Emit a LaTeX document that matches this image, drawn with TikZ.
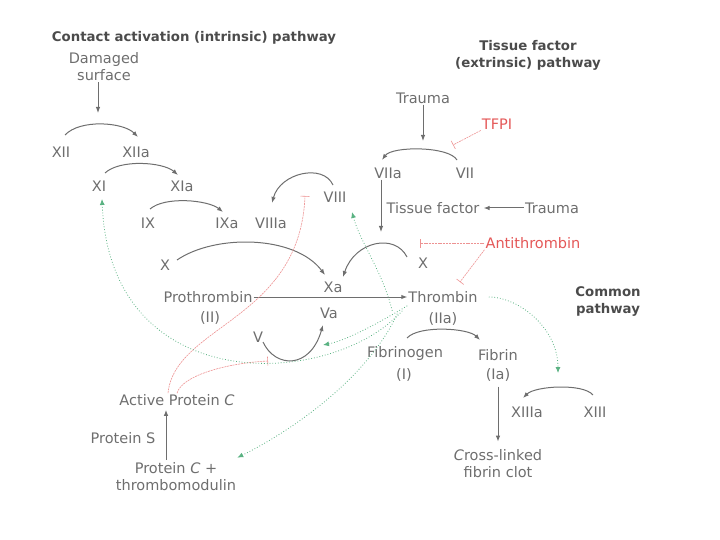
\documentclass[tikz,border=0pt]{standalone}
\usepackage{fontspec}
\setmainfont{DejaVu Sans}
\usetikzlibrary{arrows.meta,calc}
\definecolor{cgray}{RGB}{110,110,110}
\definecolor{cdark}{RGB}{75,75,75}
\definecolor{cred}{RGB}{228,88,88}
\definecolor{cgreen}{RGB}{90,178,130}
\tikzset{fac/.style={inner sep=1pt, align=center, text=cgray, font=\fontsize{14.5}{17}\selectfont}}
\tikzset{ttl/.style={inner sep=1pt, align=center, text=cdark, font=\fontsize{13.3}{17}\selectfont\bfseries}}
\tikzset{arr/.style={-{Latex[length=6pt,width=4.5pt]}, line width=1pt, cgray}}
\tikzset{inh/.style={-{Bar[width=9pt]}, line width=0.6pt, cred!65, dash pattern=on 2pt off 0.8pt}}
\tikzset{garr/.style={-{Latex[length=6pt,width=5pt]}, line width=0.8pt, dotted, cgreen}}

\begin{document}
\begin{tikzpicture}[x=1pt, y=-1pt]
        \useasboundingbox (0,0) rectangle (720,540);

        %%% TITLES %%%
        \node[ttl] (ttlc) at (194,38) {Contact activation (intrinsic) pathway};
        \node[ttl] (ttlt) at (528,55) {Tissue factor\\(extrinsic) pathway};
        \node[ttl] (ttlm) at (608,301) {Common\\pathway};

        %%% INTRINSIC %%%
        \node[fac] (dmg) at (104,67) {Damaged\\surface};
        \node[fac] (xii) at (61,152) {XII};
        \node[fac] (xiia) at (136,152) {XIIa};
        \node[fac] (xi) at (99,186) {XI};
        \node[fac] (xia) at (182,186) {XIa};
        \node[fac] (ix) at (148,223) {IX};
        \node[fac] (ixa) at (227,223) {IXa};
        \node[fac] (viiia) at (271,223) {VIIIa};
        \node[fac] (viii) at (335,197) {VIII};

        %%% EXTRINSIC %%%
        \node[fac] (trauma1) at (423,98) {Trauma};
        \node[fac, text=cred] (tfpi) at (497,124) {TFPI};
        \node[fac] (viia) at (388,173) {VIIa};
        \node[fac] (vii) at (465,173) {VII};
        \node[fac] (tf) at (433,208) {Tissue factor};
        \node[fac] (trauma2) at (552,208) {Trauma};
        \node[fac] (xr) at (423,263) {X};
        \node[fac, text=cred] (anti) at (533,243) {Antithrombin};

        %%% COMMON %%%
        \node[fac] (xl) at (165,265) {X};
        \node[fac] (xa) at (333,287) {Xa};
        \node[fac] (pro) at (208,297) {Prothrombin};
        \node[fac] (proii) at (210,318) {(II)};
        \node[fac] (va) at (329,313) {Va};
        \node[fac] (v) at (258,337) {V};
        \node[fac] (thr) at (443,297) {Thrombin};
        \node[fac] (thrii) at (443,319) {(IIa)};
        \node[fac] (fbg) at (405,353) {Fibrinogen};
        \node[fac] (fbgi) at (404,375) {(I)};
        \node[fac] (fbn) at (498,355) {Fibrin};
        \node[fac] (fbni) at (498,375) {(Ia)};
        \node[fac] (xiiia) at (527,412) {XIIIa};
        \node[fac] (xiii) at (595,412) {XIII};
        \node[fac] (clot) at (498,464) {\textit{C}ross-linked\\fibrin clot};

        %%% PROTEIN C %%%
        \node[fac] (apc) at (177,400) {Active Protein \textit{C}};
        \node[fac] (ps) at (123,438) {Protein S};
        \node[fac] (pc) at (176,477) {Protein \textit{C} +\\thrombomodulin};

        \coordinate (surf) at (98,113);
        \coordinate (trtip) at (423,141);
        \coordinate (tftip) at (381,232);
        \coordinate (tfpibar) at (453,145);
        \coordinate (antibar) at (420,243);
        \coordinate (thrbar) at (460,282);
        \coordinate (viiibar) at (305,196);
        \coordinate (vbar) at (268,361);

        %%% ARROWS %%%
        \draw[arr] (dmg.south -| surf) -- (surf);
        \draw[arr] ($(xii)+(4,-17)$) .. controls +(15,-16) and +(-15,-15) .. ($(xiia)+(2,-15)$);
        \draw[arr] ($(xi)+(6,-13)$) .. controls +(15,-14) and +(-15,-13) .. ($(xia)+(-4,-11)$);
        \draw[arr] ($(ix)+(2,-14)$) .. controls +(15,-13) and +(-15,-12) .. ($(ixa)+(-4,-11)$);
        \draw[arr] ($(viii)+(-2,-12)$) .. controls +(-10,-22) and +(8,-30) .. ($(viiia)+(1,-20)$);
        \draw[arr] (trauma1.south) -- (trtip);
        \draw[arr] ($(vii)+(-8,-13)$) .. controls +(-8,-14) and +(10,-14) .. ($(viia)+(-6,-13)$);
        \draw[arr] (viia.south -| tftip) -- (tftip);
        \draw[arr, shorten >=3pt] (trauma2.west) -- (tf.east);
        \draw[arr] ($(xr)+(-16,-6)$) .. controls +(-12,-24) and +(12,-36) .. ($(xa)+(10,-10)$);
        \draw[arr] ($(xl)+(12,-5)$) .. controls +(38,-26) and +(-30,-40) .. ($(xa)+(-8,-12)$);
        \draw[arr] (pro.east) -- (thr.west);
        \draw[arr] ($(v)+(5,5)$) .. controls +(12,26) and +(-13,45) .. ($(va)+(-6,12)$);
        \draw[arr] ($(fbg)+(2,-15)$) .. controls +(12,-13) and +(-12,-12) .. ($(fbn)+(-18,-15)$);
        \draw[arr, shorten >=7pt, shorten <=4pt] (fbni.south) -- (clot.north);
        \draw[arr] ($(xiii)+(-2,-17)$) .. controls +(-10,-12) and +(12,-12) .. ($(xiiia)+(-4,-14)$);
        \draw[arr, shorten >=3pt, shorten <=2pt] ($(pc.north)+(-10,0)$) -- ($(apc.south)+(-11,0)$);

        %%% INHIBITION %%%
        \draw[inh] (tfpi.south west) -- (tfpibar);
        \draw[inh] (anti.west) -- (antibar);
        \draw[inh] (anti.south west) -- (thrbar);
        \draw[inh] ($(apc.north)+(-9,0)$) .. controls +(7,-68) and +(-5,124) .. (viiibar);
        \draw[inh] (apc.north) .. controls +(5,-18) and +(-40,2) .. (vbar);

        %%% THROMBIN FEEDBACK %%%
        \draw[garr] ($(thr.south west)+(-15,7)$) .. controls +(-10,-40) and +(8,30) .. ($(viii)+(17,15)$);
        \draw[garr] ($(thr.south west)+(0,2)$) .. controls +(-25,15) and +(25,-5) .. ($(va)+(-6,32)$);
        \draw[garr] ($(thr.south west)+(-5,7)$) .. controls +(-70,78) and +(8,201) .. ($(xi)+(3,13)$);
        \draw[garr] ($(thr.south west)+(-10,10)$) .. controls +(-25,55) and +(70,-35) .. ($(pc.north east)+(0,-4)$);
        \draw[garr] ($(thr.east)+(10,0)$) .. controls +(30,0) and +(0,-45) .. ($(xiiia)!.5!(xiii)+(-3,-39)$);
    \end{tikzpicture}
\end{document}
